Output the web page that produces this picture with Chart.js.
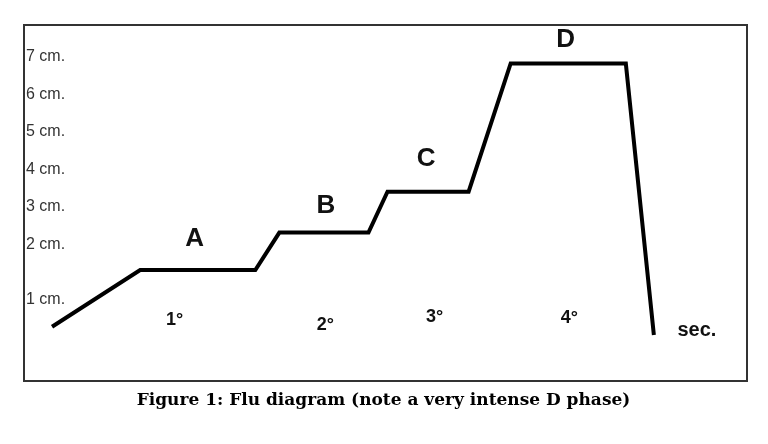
<!DOCTYPE html>
<html>
<head>
<meta charset="utf-8">
<script src="https://cdn.jsdelivr.net/npm/chart.js@4.4.1/dist/chart.umd.min.js"></script>
<style>
  html, body { margin: 0; padding: 0; background: #fff; }
  #wrap { width: 768px; height: 444px; }
</style>
</head>
<body>
<div id="wrap"><canvas id="fluChart" width="768" height="444"></canvas></div>
<script>
// time axis (arbitrary units) and fever height in cm
const timeValues  = [2.8, 11.6, 23.1, 25.5, 34.4, 36.3, 44.4, 48.6, 60.1, 62.9];
const feverValues = [-0.2, 1.31, 1.31, 2.31, 2.31, 3.4, 3.4, 6.82, 6.82, -0.42];

// y axis labels (the 1 cm. mark sits lower than the even spacing)
const yTickValues = [0.51, 2, 3, 4, 5, 6, 7];
const yTickLabels = ['1 cm.', '2 cm.', '3 cm.', '4 cm.', '5 cm.', '6 cm.', '7 cm.'];

// phase letters
const phaseLabels = ['A', 'B', 'C', 'D'];
const phaseX = [17.05, 30.15, 40.15, 54.1];
const phaseY = [2.13, 3.01, 4.27, 7.44];

// degree labels along the bottom
const degreeLabels = ['1°', '2°', '3°', '4°', 'sec.'];
const degreeX = [15.05, 30.1, 41.0, 54.45, 67.2];
const degreeY = [-0.02, -0.15, 0.05, 0.03, -0.31];

const caption = 'Figure 1: Flu diagram (note a very intense D phase)';

// frame round the plot area
const framePlugin = {
    id: 'frame',
    afterDraw(chart) {
        const { ctx, chartArea: a } = chart;
        ctx.save();
        ctx.strokeStyle = '#333';
        ctx.lineWidth = 2;
        ctx.strokeRect(a.left, a.top, a.right - a.left, a.bottom - a.top);
        ctx.restore();
    }
};

// text labels placed at data coordinates
const labelPlugin = {
    id: 'phaseText',
    afterDatasetsDraw(chart) {
        const { ctx, scales: { x, y } } = chart;
        ctx.save();
        ctx.fillStyle = '#111';
        ctx.textAlign = 'center';
        ctx.textBaseline = 'middle';
        ctx.font = 'bold 26px "Liberation Sans", Arial, sans-serif';
        phaseLabels.forEach((t, i) => {
            ctx.fillText(t, x.getPixelForValue(phaseX[i]), y.getPixelForValue(phaseY[i]));
        });
        degreeLabels.forEach((t, i) => {
            ctx.font = t === 'sec.' ? 'bold 20px "Liberation Sans", Arial, sans-serif'
                                    : 'bold 18px "Liberation Sans", Arial, sans-serif';
            ctx.fillText(t, x.getPixelForValue(degreeX[i]), y.getPixelForValue(degreeY[i]));
        });
        ctx.restore();
    }
};

const ctx = document.getElementById('fluChart').getContext('2d');
new Chart(ctx, {
    type: 'line',
    data: {
        datasets: [{
            data: timeValues.map((t, i) => ({ x: t, y: feverValues[i] })),
            borderColor: '#000',
            borderWidth: 4,
            pointRadius: 0,
            tension: 0,
            fill: false
        }]
    },
    options: {
        responsive: false,
        animation: false,
        layout: { padding: { left: 20, top: 25, right: 21, bottom: 0 } },
        plugins: {
            legend: { display: false },
            tooltip: { enabled: false },
            title: {
                display: true,
                position: 'bottom',
                text: caption,
                color: '#000',
                font: { family: '"DejaVu Serif", "Liberation Serif", serif', size: 17, weight: 'bold' },
                padding: { top: 9.8, bottom: 32.8 }
            }
        },
        scales: {
            x: {
                type: 'linear',
                display: false,
                min: 0,
                max: 72.2
            },
            y: {
                type: 'linear',
                min: -1.648,
                max: 7.845,
                grid: { display: false, drawTicks: false },
                border: { display: false },
                afterBuildTicks: axis => { axis.ticks = yTickValues.map(v => ({ value: v })); },
                ticks: {
                    mirror: true,
                    padding: 2,
                    autoSkip: false,
                    color: '#333',
                    font: { family: '"Liberation Sans", Arial, sans-serif', size: 16 },
                    callback: (v, i) => yTickLabels[i]
                }
            }
        }
    },
    plugins: [framePlugin, labelPlugin]
});
</script>
</body>
</html>
